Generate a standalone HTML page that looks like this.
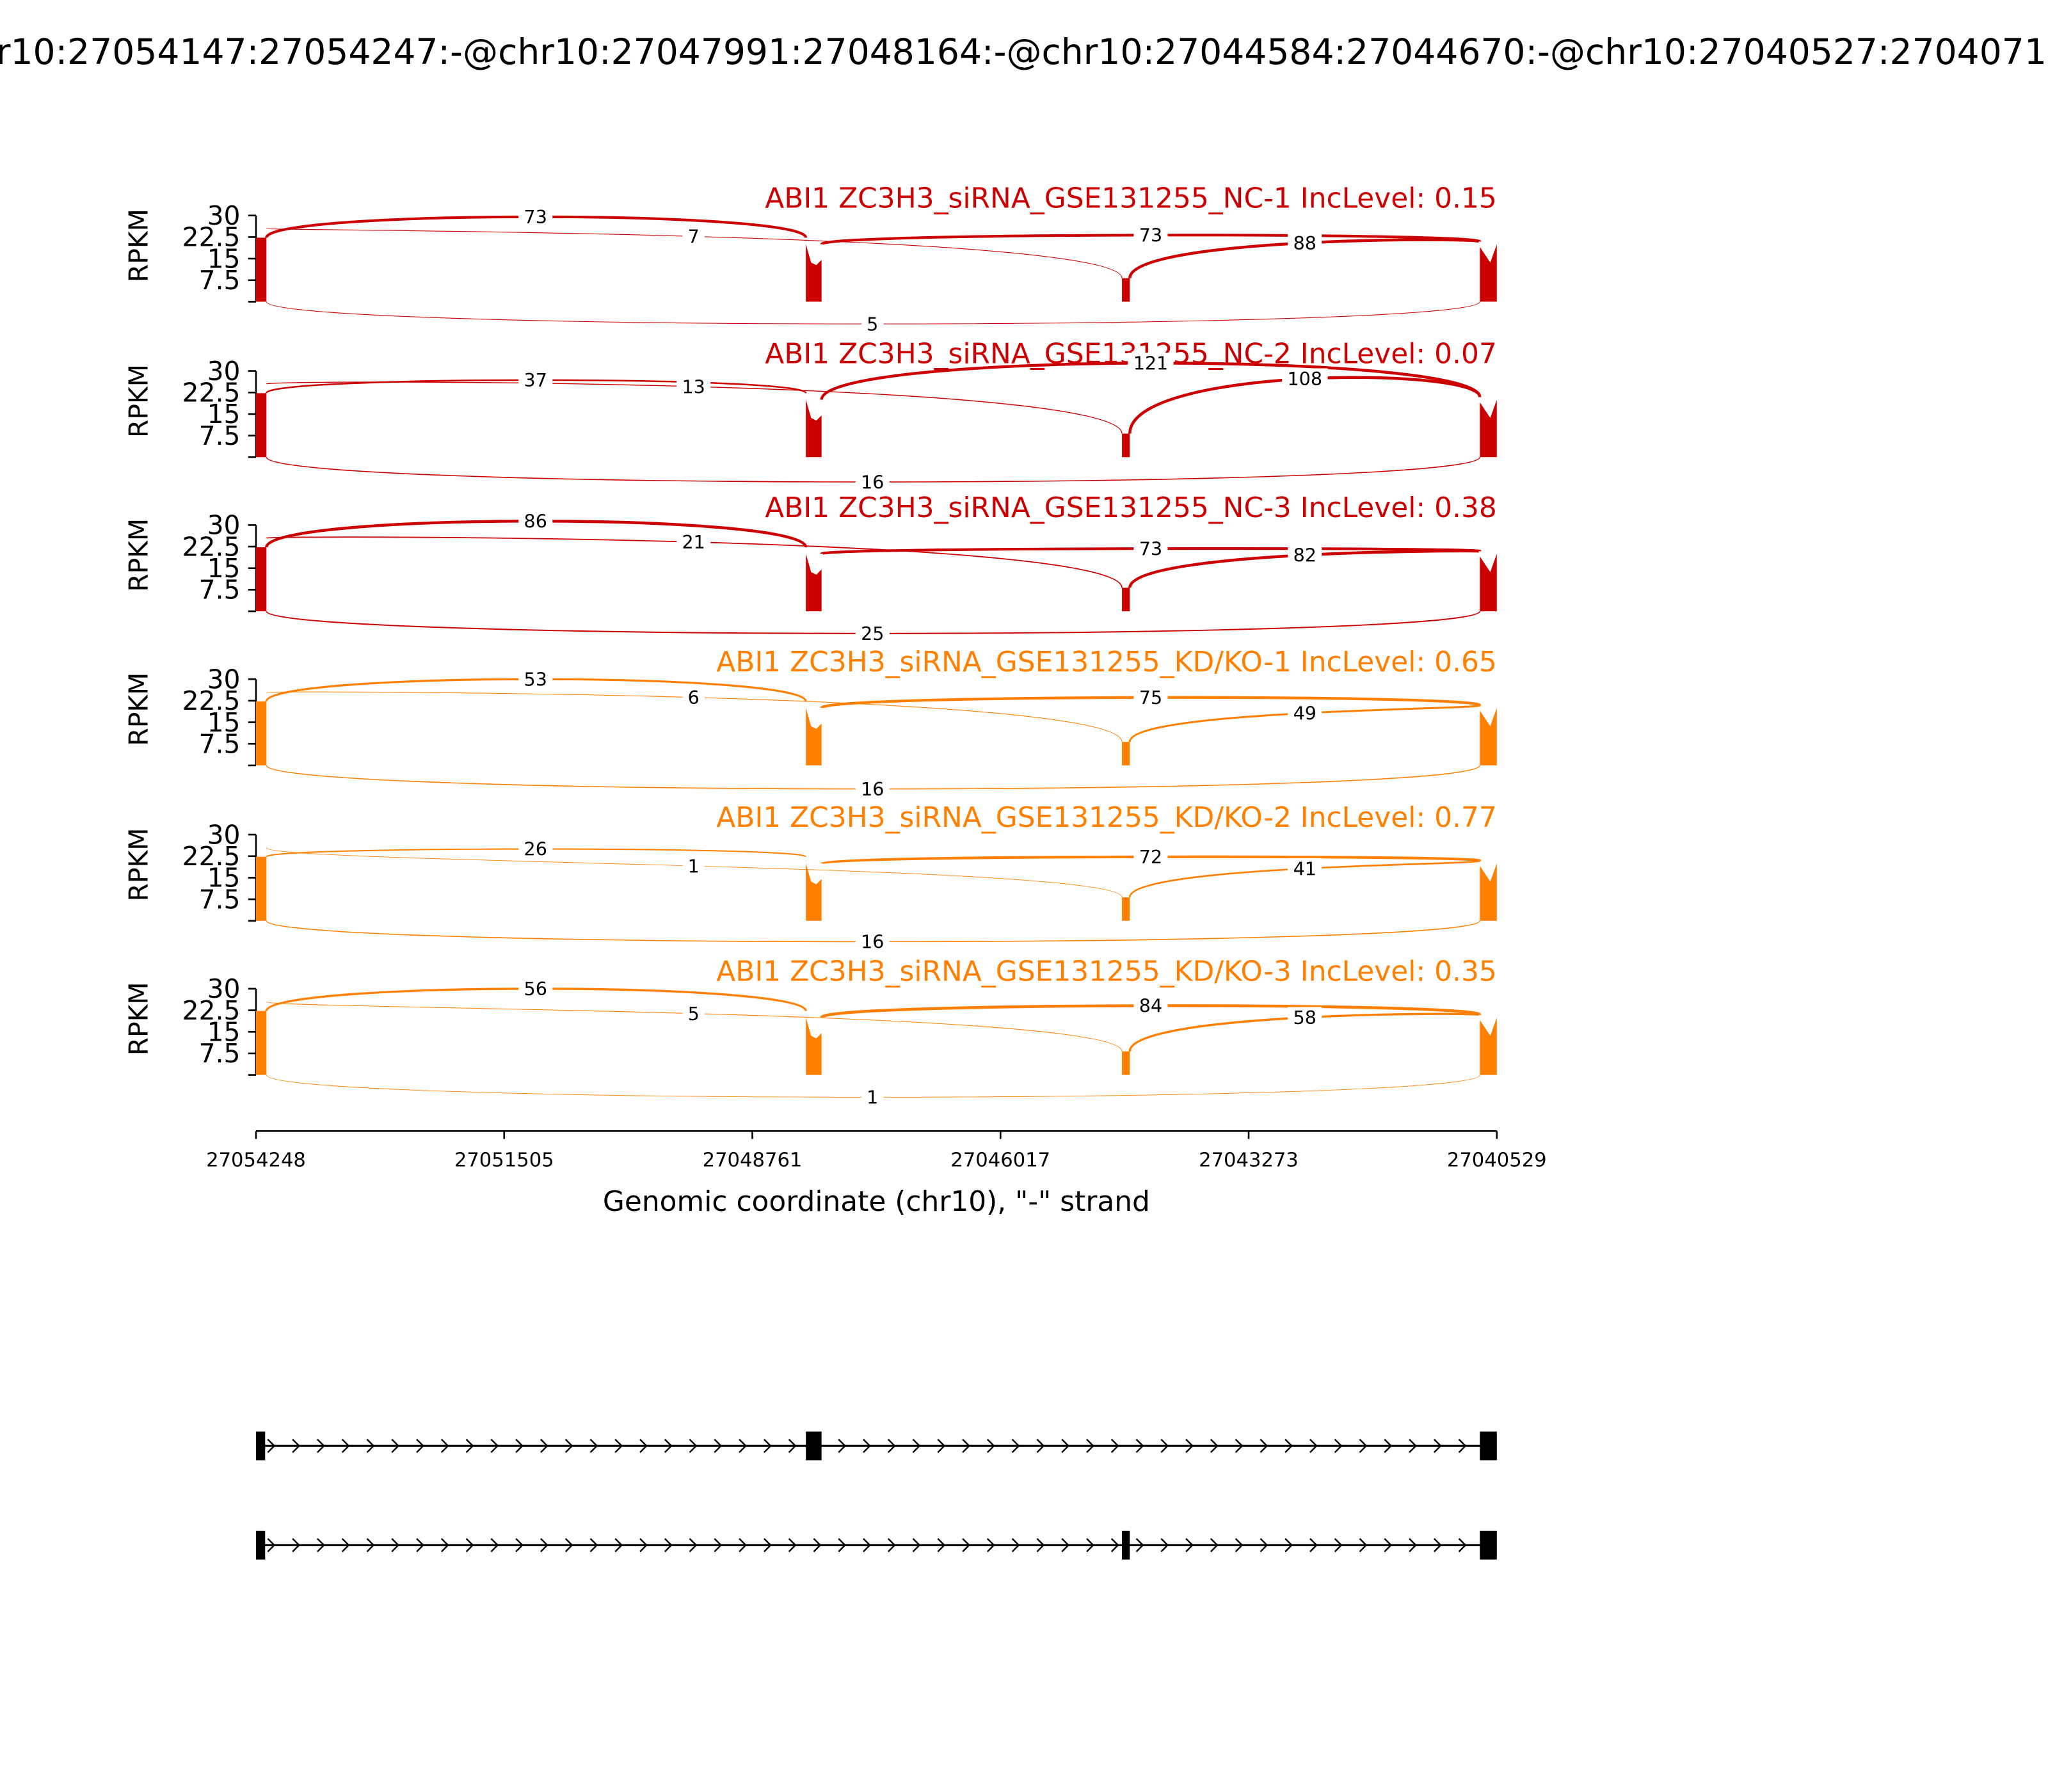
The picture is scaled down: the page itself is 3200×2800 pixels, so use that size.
<!DOCTYPE html>
<html><head><meta charset="utf-8"><style>
html,body{margin:0;padding:0;background:#fff;}
svg{display:block;}
text{font-family:"DejaVu Sans","Liberation Sans",sans-serif;}
</style></head><body>
<svg width="3200" height="2800" viewBox="0 0 1568 1372" xmlns="http://www.w3.org/2000/svg">
<rect width="1568" height="1372" fill="#fff"/>
<text x="784" y="49" font-size="27" text-anchor="middle">chr10:27054147:27054247:-@chr10:27047991:27048164:-@chr10:27044584:27044670:-@chr10:27040527:27040710:-</text>
<g id="panels"></g>
<!-- x axis -->
<g stroke="#000" stroke-width="1.3">
<line x1="196" y1="866" x2="1146" y2="866"/>
<line x1="196" y1="866" x2="196" y2="872"/><line x1="386" y1="866" x2="386" y2="872"/>
<line x1="576" y1="866" x2="576" y2="872"/><line x1="766" y1="866" x2="766" y2="872"/>
<line x1="956" y1="866" x2="956" y2="872"/><line x1="1146" y1="866" x2="1146" y2="872"/>
</g>
<g font-size="15" text-anchor="middle">
<text x="196" y="893">27054248</text><text x="386" y="893">27051505</text>
<text x="576" y="893">27048761</text><text x="766" y="893">27046017</text>
<text x="956" y="893">27043273</text><text x="1146" y="893">27040529</text>
</g>
<text x="671" y="927" font-size="21.5" text-anchor="middle">Genomic coordinate (chr10), "-" strand</text>
<g id="genes"></g>
<script>
var NS="http://www.w3.org/2000/svg";
function el(p,t,a,txt){var e=document.createElementNS(NS,t);for(var k in a)e.setAttribute(k,a[k]);if(txt!=null)e.textContent=txt;p.appendChild(e);return e;}
var P=document.getElementById("panels");
var red="#cc0000",org="#ff8000";
var panels=[
 {t:165,c:red,name:"ABI1 ZC3H3_siRNA_GSE131255_NC-1 IncLevel: 0.15",L:[[73,166],[7,181],[73,180],[88,186],[5,248]]},
 {t:284,c:red,name:"ABI1 ZC3H3_siRNA_GSE131255_NC-2 IncLevel: 0.07",L:[[37,291],[13,296],[121,278],[108,290],[16,369]]},
 {t:402,c:red,name:"ABI1 ZC3H3_siRNA_GSE131255_NC-3 IncLevel: 0.38",L:[[86,399],[21,415],[73,420],[82,425],[25,485]]},
 {t:520,c:org,name:"ABI1 ZC3H3_siRNA_GSE131255_KD/KO-1 IncLevel: 0.65",L:[[53,520],[6,534],[75,534],[49,546],[16,604]]},
 {t:639,c:org,name:"ABI1 ZC3H3_siRNA_GSE131255_KD/KO-2 IncLevel: 0.77",L:[[26,650],[1,663],[72,656],[41,665],[16,721]]},
 {t:757,c:org,name:"ABI1 ZC3H3_siRNA_GSE131255_KD/KO-3 IncLevel: 0.35",L:[[56,757],[5,776],[84,770],[58,779],[1,840]]}
];
panels.forEach(function(p){
 var t=p.t,b=t+66,g=el(P,"g",{});
 el(g,"line",{x1:196,y1:t,x2:196,y2:b,stroke:"#000","stroke-width":1.3});
 [[30,t],[22.5,t+16.5],[15,t+33],[7.5,t+49.5]].forEach(function(k){
  el(g,"line",{x1:190,y1:k[1],x2:196,y2:k[1],stroke:"#000","stroke-width":1.3});
  el(g,"text",{x:184,y:k[1]+7,"font-size":20,"text-anchor":"end"},String(k[0]));
 });
 el(g,"line",{x1:190,y1:b,x2:196,y2:b,stroke:"#000","stroke-width":1.3});
 el(g,"text",{x:0,y:0,"font-size":20,"text-anchor":"middle",transform:"translate(113,"+(t+23)+") rotate(-90)"},"RPKM");
 el(g,"text",{x:1146,y:t-6,"font-size":21.5,"text-anchor":"end",fill:p.c},p.name);
 el(g,"rect",{x:196,y:t+17,width:8,height:b-t-17,fill:p.c});
 el(g,"path",{d:"M617 "+b+" L617 "+(t+22)+" L621 "+(t+36)+" L625 "+(t+38)+" L629 "+(t+34)+" L629 "+b+"Z",fill:p.c});
 el(g,"rect",{x:859,y:b-18,width:6,height:18,fill:p.c});
 el(g,"path",{d:"M1133 "+b+" L1133 "+(t+24)+" L1137 "+(t+30)+" L1141 "+(t+36)+" L1146 "+(t+22)+" L1146 "+b+"Z",fill:p.c});
 var A=[[204,t+17,617,t+17],[204,t+10,859,b-18],[629,t+22,1133,t+20],[865,b-18,1133,t+20],[204,b,1133,b]];
 var mids=[410,531,881,999,668];
 p.L.forEach(function(l,i){
  var a=A[i],pk=l[1];
  var c=(8*pk-a[1]-a[3])/6;
  var w=Math.min(2.2,0.4+l[0]/45);
  el(g,"path",{d:"M"+a[0]+" "+a[1]+" C"+a[0]+" "+c+" "+a[2]+" "+c+" "+a[2]+" "+a[3],fill:"none",stroke:p.c,"stroke-width":w});
 });
 p.L.forEach(function(l,i){
  var s=String(l[0]),w=s.length*9+8;
  el(g,"rect",{x:mids[i]-w/2,y:l[1]-8,width:w,height:16,fill:"#fff"});
  el(g,"text",{x:mids[i],y:l[1]+5,"font-size":14,"text-anchor":"middle"},s);
 });
});
var G=document.getElementById("genes");
function gene(y,ex){
 el(G,"line",{x1:200,y1:y,x2:1140,y2:y,stroke:"#000","stroke-width":1.5});
 for(var x=208;x<1135;x+=19){el(G,"path",{d:"M"+(x-3)+" "+(y-5)+" L"+(x+2)+" "+y+" L"+(x-3)+" "+(y+5),fill:"none",stroke:"#000","stroke-width":1.2});}
 ex.forEach(function(e){el(G,"rect",{x:e[0],y:y-11,width:e[1]-e[0],height:22,fill:"#000"});});
}
gene(1107,[[196,203],[617,629],[1133,1146]]);
gene(1183,[[196,203],[859,865],[1133,1146]]);
</script>
</svg>
</body></html>
